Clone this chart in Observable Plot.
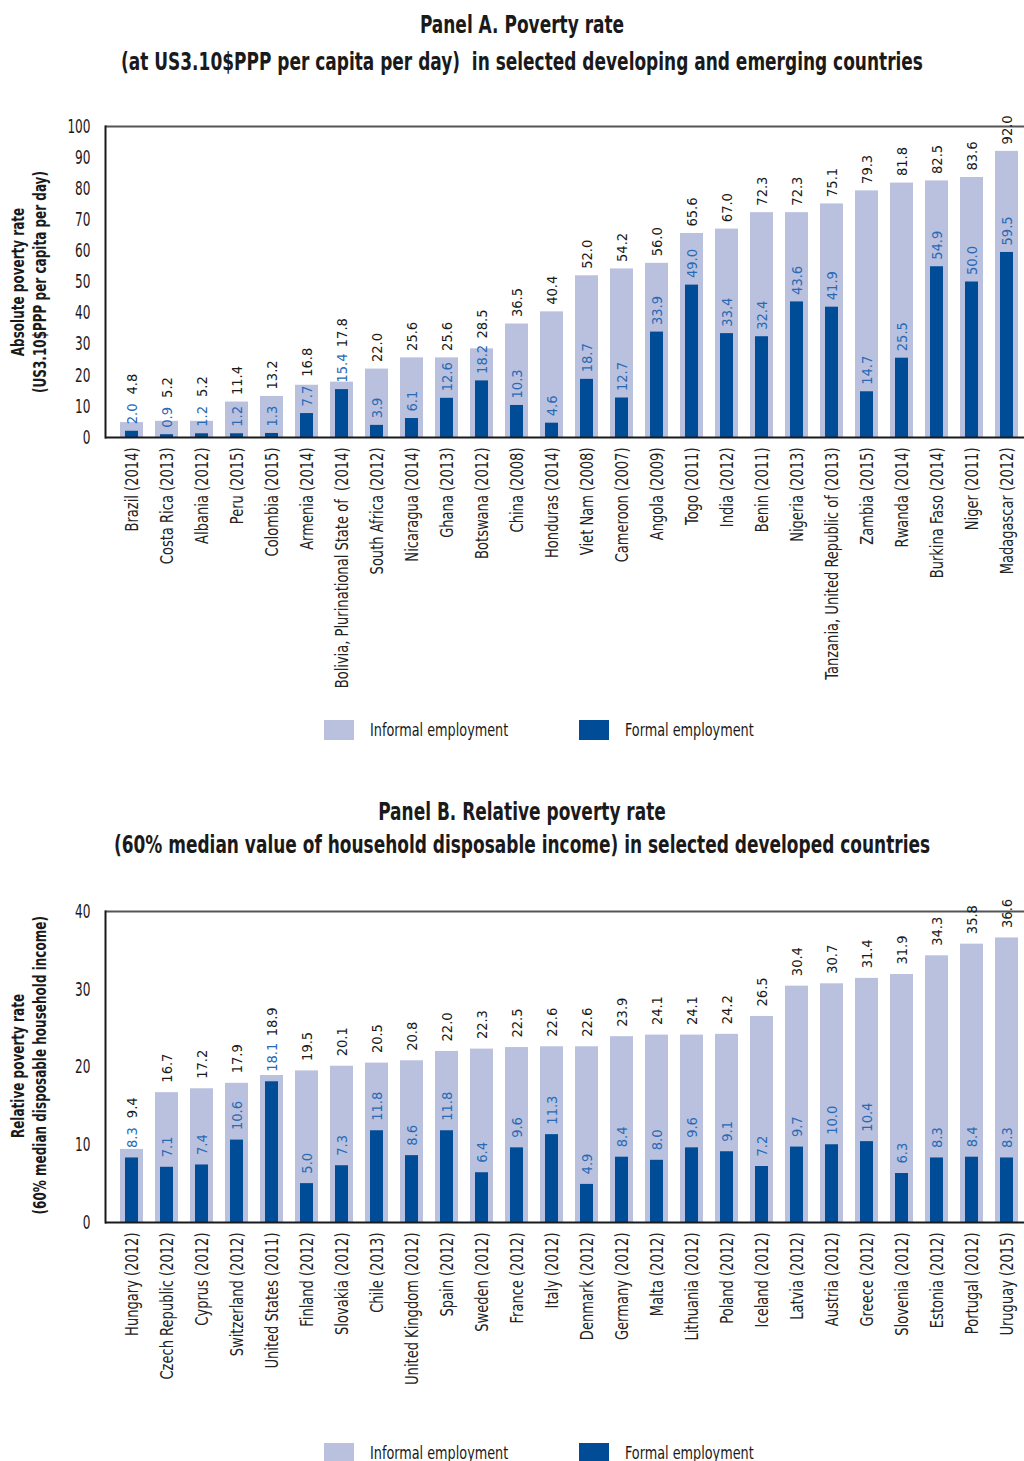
<!DOCTYPE html>
<html><head><meta charset="utf-8">
<script src="https://cdn.jsdelivr.net/npm/d3@7"></script>
<script src="https://cdn.jsdelivr.net/npm/@observablehq/plot@0.6"></script>
<style>
  body{margin:0;background:#fff;width:1024px;height:1461px;position:relative;overflow:hidden;
       font-family:"Liberation Sans Narrow","DejaVu Sans Condensed","Arial Narrow",sans-serif;color:#1a1a1a}
  .abs{position:absolute;left:0;width:1024px}
  .title{position:absolute;left:-190px;width:1424px;text-align:center;font-weight:bold;font-size:25px;
         white-space:pre;transform:scaleX(0.755);transform-origin:712px 0}
  .ytitle{position:absolute;width:400px;height:44px;line-height:22px;text-align:center;font-weight:bold;
          font-size:18px;white-space:pre;transform:rotate(-90deg) scaleX(0.742);transform-origin:200px 22px}
  .sw{position:absolute;width:30px;height:20px}
  .lt{position:absolute;font-size:18.5px;line-height:20px;white-space:pre;transform:scaleX(0.77);transform-origin:0 0}
  svg{display:block}
</style>
</head><body>

<div class="title" style="top:6px;line-height:37px"><div>Panel A. Poverty rate</div><div>(at US3.10$PPP per capita per day)  in selected developing and emerging countries</div></div>
<div class="abs" id="chartA" style="top:90px"></div>
<div class="ytitle" style="left:-171px;top:260px"><div>Absolute poverty rate</div><div>(US3.10$PPP per capita per day)</div></div>
<div class="abs" id="legendA" style="top:720px;height:20px"></div>

<div class="title" style="top:795px;line-height:33px"><div>Panel B. Relative poverty rate</div><div>(60% median value of household disposable income) in selected developed countries</div></div>
<div class="abs" id="chartB" style="top:875px"></div>
<div class="ytitle" style="left:-171px;top:1044px"><div>Relative poverty rate</div><div>(60% median disposable household income)</div></div>
<div class="abs" id="legendB" style="top:1443px;height:20px"></div>

<script>
// ---------- Panel A data ----------
const countriesA = [
  "Brazil (2014)", "Costa Rica (2013)", "Albania (2012)", "Peru (2015)", "Colombia (2015)",
  "Armenia (2014)", "Bolivia, Plurinational State of  (2014)", "South Africa (2012)",
  "Nicaragua (2014)", "Ghana (2013)", "Botswana (2012)", "China (2008)", "Honduras (2014)",
  "Viet Nam (2008)", "Cameroon (2007)", "Angola (2009)", "Togo (2011)", "India (2012)",
  "Benin (2011)", "Nigeria (2013)", "Tanzania, United Republic of (2013)", "Zambia (2015)",
  "Rwanda (2014)", "Burkina Faso (2014)", "Niger (2011)", "Madagascar (2012)"
];
const informalA = [4.8, 5.2, 5.2, 11.4, 13.2, 16.8, 17.8, 22.0, 25.6, 25.6, 28.5, 36.5, 40.4,
  52.0, 54.2, 56.0, 65.6, 67.0, 72.3, 72.3, 75.1, 79.3, 81.8, 82.5, 83.6, 92.0];
const formalA = [2.0, 0.9, 1.2, 1.2, 1.3, 7.7, 15.4, 3.9, 6.1, 12.6, 18.2, 10.3, 4.6,
  18.7, 12.7, 33.9, 49.0, 33.4, 32.4, 43.6, 41.9, 14.7, 25.5, 54.9, 50.0, 59.5];
const yTicksA = [0, 10, 20, 30, 40, 50, 60, 70, 80, 90, 100];

// ---------- Panel B data ----------
const countriesB = [
  "Hungary (2012)", "Czech Republic (2012)", "Cyprus (2012)", "Switzerland (2012)",
  "United States (2011)", "Finland (2012)", "Slovakia (2012)", "Chile (2013)",
  "United Kingdom (2012)", "Spain (2012)", "Sweden (2012)", "France (2012)", "Italy (2012)",
  "Denmark (2012)", "Germany (2012)", "Malta (2012)", "Lithuania (2012)", "Poland (2012)",
  "Iceland (2012)", "Latvia (2012)", "Austria (2012)", "Greece (2012)", "Slovenia (2012)",
  "Estonia (2012)", "Portugal (2012)", "Uruguay (2015)"
];
const informalB = [9.4, 16.7, 17.2, 17.9, 18.9, 19.5, 20.1, 20.5, 20.8, 22.0, 22.3, 22.5, 22.6,
  22.6, 23.9, 24.1, 24.1, 24.2, 26.5, 30.4, 30.7, 31.4, 31.9, 34.3, 35.8, 36.6];
const formalB = [8.3, 7.1, 7.4, 10.6, 18.1, 5.0, 7.3, 11.8, 8.6, 11.8, 6.4, 9.6, 11.3,
  4.9, 8.4, 8.0, 9.6, 9.1, 7.2, 9.7, 10.0, 10.4, 6.3, 8.3, 8.4, 8.3];
const yTicksB = [0, 10, 20, 30, 40];

const seriesNames = ["Informal employment", "Formal employment"];
const colors = ["#b9c1de", "#004c97"];

const FONT = '"Liberation Sans Narrow","DejaVu Sans Condensed","Arial Narrow",sans-serif';
const fmt = d3.format(".1f");

// horizontally condense the glyphs of a group of texts (along the text direction)
function condense(svg, label, s) {
  d3.select(svg).selectAll(`g[aria-label='${label}'] text`).each(function () {
    const t = d3.select(this);
    const tr = t.attr("transform");
    if (tr) t.attr("transform", tr + ` scale(${s},1)`);
  });
}

function panel({countries, informal, formal, yMax, yTicks, height, marginBottom, gapF, gapI}) {
  const plotH = 311;
  const k = plotH / yMax; // px per unit
  const data = countries.map((c, i) => ({country: c, informal: informal[i], formal: formal[i]}));
  data.forEach(d => {
    const fLen = fmt(d.formal).length * 5.6;
    d.formalLabelY = d.formal + gapF / k;
    d.informalLabelY = Math.max(d.informal + gapI / k, d.formalLabelY + (fLen + 13) / k);
  });
  const svg = Plot.plot({
    width: 1024, height, marginTop: 36, marginBottom, marginLeft: 105, marginRight: 0,
    style: {fontFamily: FONT, color: "#1a1a1a", background: "transparent", overflow: "visible"},
    x: {domain: countries, range: [105, 1032], paddingInner: 0.355, paddingOuter: 0.1775},
    y: {domain: [0, yMax]},
    marks: [
      Plot.barY(data, {x: "country", y: "informal", fill: colors[0]}),
      Plot.barY(data, {x: "country", y: "formal", fill: colors[1], insetLeft: 5, insetRight: 5}),
      Plot.ruleY([yMax], {stroke: "#555", strokeWidth: 2}),
      Plot.ruleY([0], {stroke: "#1a1a1a", strokeWidth: 2}),
      Plot.frame({anchor: "left", stroke: "#1a1a1a", strokeWidth: 2}),
      Plot.axisY({ticks: yTicks, tickSize: 0, tickPadding: 15, fontSize: 19.5, label: null}),
      Plot.axisX({tickRotate: -90, tickSize: 0, tickPadding: 10, fontSize: 17.5, label: null, fill: "#222"}),
      Plot.text(data, {x: "country", y: "formalLabelY", text: d => fmt(d.formal), rotate: -90,
        textAnchor: "start", fill: "#2a6ab5", fontSize: 14.5, ariaLabel: "formal-label"}),
      Plot.text(data, {x: "country", y: "informalLabelY", text: d => fmt(d.informal), rotate: -90,
        textAnchor: "start", fill: "#1a1a1a", fontSize: 14.5, ariaLabel: "informal-label"})
    ]
  });
  condense(svg, "y-axis tick label", 0.69);
  condense(svg, "x-axis tick label", 0.83);
  condense(svg, "formal-label", 0.77);
  condense(svg, "informal-label", 0.77);
  return svg;
}

document.getElementById("chartA").append(panel({
  countries: countriesA, informal: informalA, formal: formalA, yMax: 100, yTicks: yTicksA,
  height: 610, marginBottom: 263, gapF: 7, gapI: 7
}));
document.getElementById("chartB").append(panel({
  countries: countriesB, informal: informalB, formal: formalB, yMax: 40, yTicks: yTicksB,
  height: 555, marginBottom: 208, gapF: 10, gapI: 10
}));

function legend(id) {
  const el = document.getElementById(id);
  const xs = [[324, 370], [579, 625]];
  seriesNames.forEach((name, i) => {
    const sw = document.createElement("div");
    sw.className = "sw"; sw.style.left = xs[i][0] + "px"; sw.style.top = "0px";
    sw.style.background = colors[i];
    const t = document.createElement("div");
    t.className = "lt"; t.style.left = xs[i][1] + "px"; t.style.top = "0px";
    t.textContent = name;
    el.append(sw, t);
  });
}
legend("legendA");
legend("legendB");
</script>
</body></html>
